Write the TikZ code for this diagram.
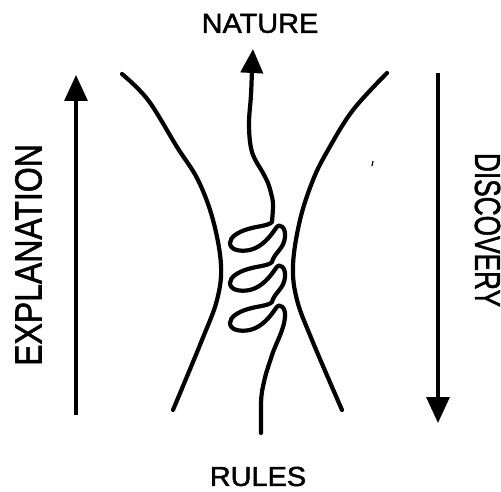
\documentclass[tikz,border=0pt]{standalone}
\usepackage{fontspec}
\setmainfont{Liberation Sans}
\newfontfamily\heavy[FakeBold=1.6]{Liberation Sans}
\usetikzlibrary{arrows.meta}
\tikzset{
  curve/.style={line width=4.2pt, line cap=round, line join=round},
  bigarrow/.style={line width=3.3pt, -{Triangle[length=26pt,width=23pt]}},
  label/.style={inner sep=0pt, font=\heavy\fontsize{27.5}{29}\selectfont},
  sidelabel/.style={inner sep=0pt, font=\heavy\fontsize{32}{34}\selectfont}
}
\begin{document}
\begin{tikzpicture}[x=1pt,y=-1pt]
\useasboundingbox (0,0) rectangle (501,492);
% labels
\node[label] (nature) at (260,23.5) {\scalebox{1.05}[1]{NATURE}};
\node[label] (rules) at (258,476.5) {\scalebox{1.05}[1]{RULES}};
\node[sidelabel, rotate=90] (expl) at (28.5,255) {\scalebox{1}[1.18]{EXPLANATION}};
\node[sidelabel, rotate=-90] (disc) at (487.5,230) {\scalebox{0.82}[1.13]{DISCOVERY}};
% side arrows
\coordinate (lb) at (76,415);
\coordinate (lt) at (76,75);
\coordinate (rt) at (438,73);
\coordinate (rb) at (438,423);
\draw[bigarrow] (lb) -- (lt);
\draw[bigarrow] (rt) -- (rb);
% hyperbola-like boundaries
\draw[curve] plot[smooth, tension=0.6] coordinates {(122,74) (148,100) (177,147) (198,180) (213,220) (221,265) (217,300) (202,340) (173,410)};
\draw[curve] plot[smooth, tension=0.6] coordinates {(387,73) (353,110) (328,150) (313,180) (300,220) (293,265) (297,300) (312,340) (342,410)};
% middle strand
\coordinate (mbot) at (261,433);
\coordinate (mtop) at (253,49);
\coordinate (cstart) at (272,222);
\draw[curve, line cap=butt, -{Triangle[length=24pt,width=22pt]}] plot[smooth, tension=0.6] coordinates {(cstart) (273,204) (271,193) (268,183) (263,173) (252,152) (249,125) (251,95) (252,70) (mtop)};
\draw[curve] (cstart)
  .. controls (268,226) and (258,226) .. (248,229)
  .. controls (238,232) and (230,237) .. (230,243)
  .. controls (230,250) and (240,252) .. (250,250)
  .. controls (262,247) and (270,237) .. (276,228)
  .. controls (280,222) and (286,228) .. (285,237)
  .. controls (284,249) and (274,253) .. (272,262)
  .. controls (268,266) and (258,266) .. (248,269)
  .. controls (238,272) and (230,277) .. (230,283)
  .. controls (230,290) and (240,292) .. (250,290)
  .. controls (262,287) and (270,277) .. (276,268)
  .. controls (280,262) and (286,268) .. (285,277)
  .. controls (284,289) and (274,293) .. (272,302)
  .. controls (268,306) and (258,306) .. (248,309)
  .. controls (238,312) and (230,317) .. (230,323)
  .. controls (230,330) and (240,332) .. (250,330)
  .. controls (262,327) and (270,317) .. (276,308)
  .. controls (280,302) and (286,308) .. (285,317)
  .. controls (284,330) and (276,343) .. (272,355)
  .. controls (269,365) and (266,372) .. (264,382)
  .. controls (261,394) and (261,400) .. (261,410)
  -- (mbot);
% stray mark
\draw[line width=1.2pt] (373,161) -- (372,166);
\end{tikzpicture}
\end{document}
